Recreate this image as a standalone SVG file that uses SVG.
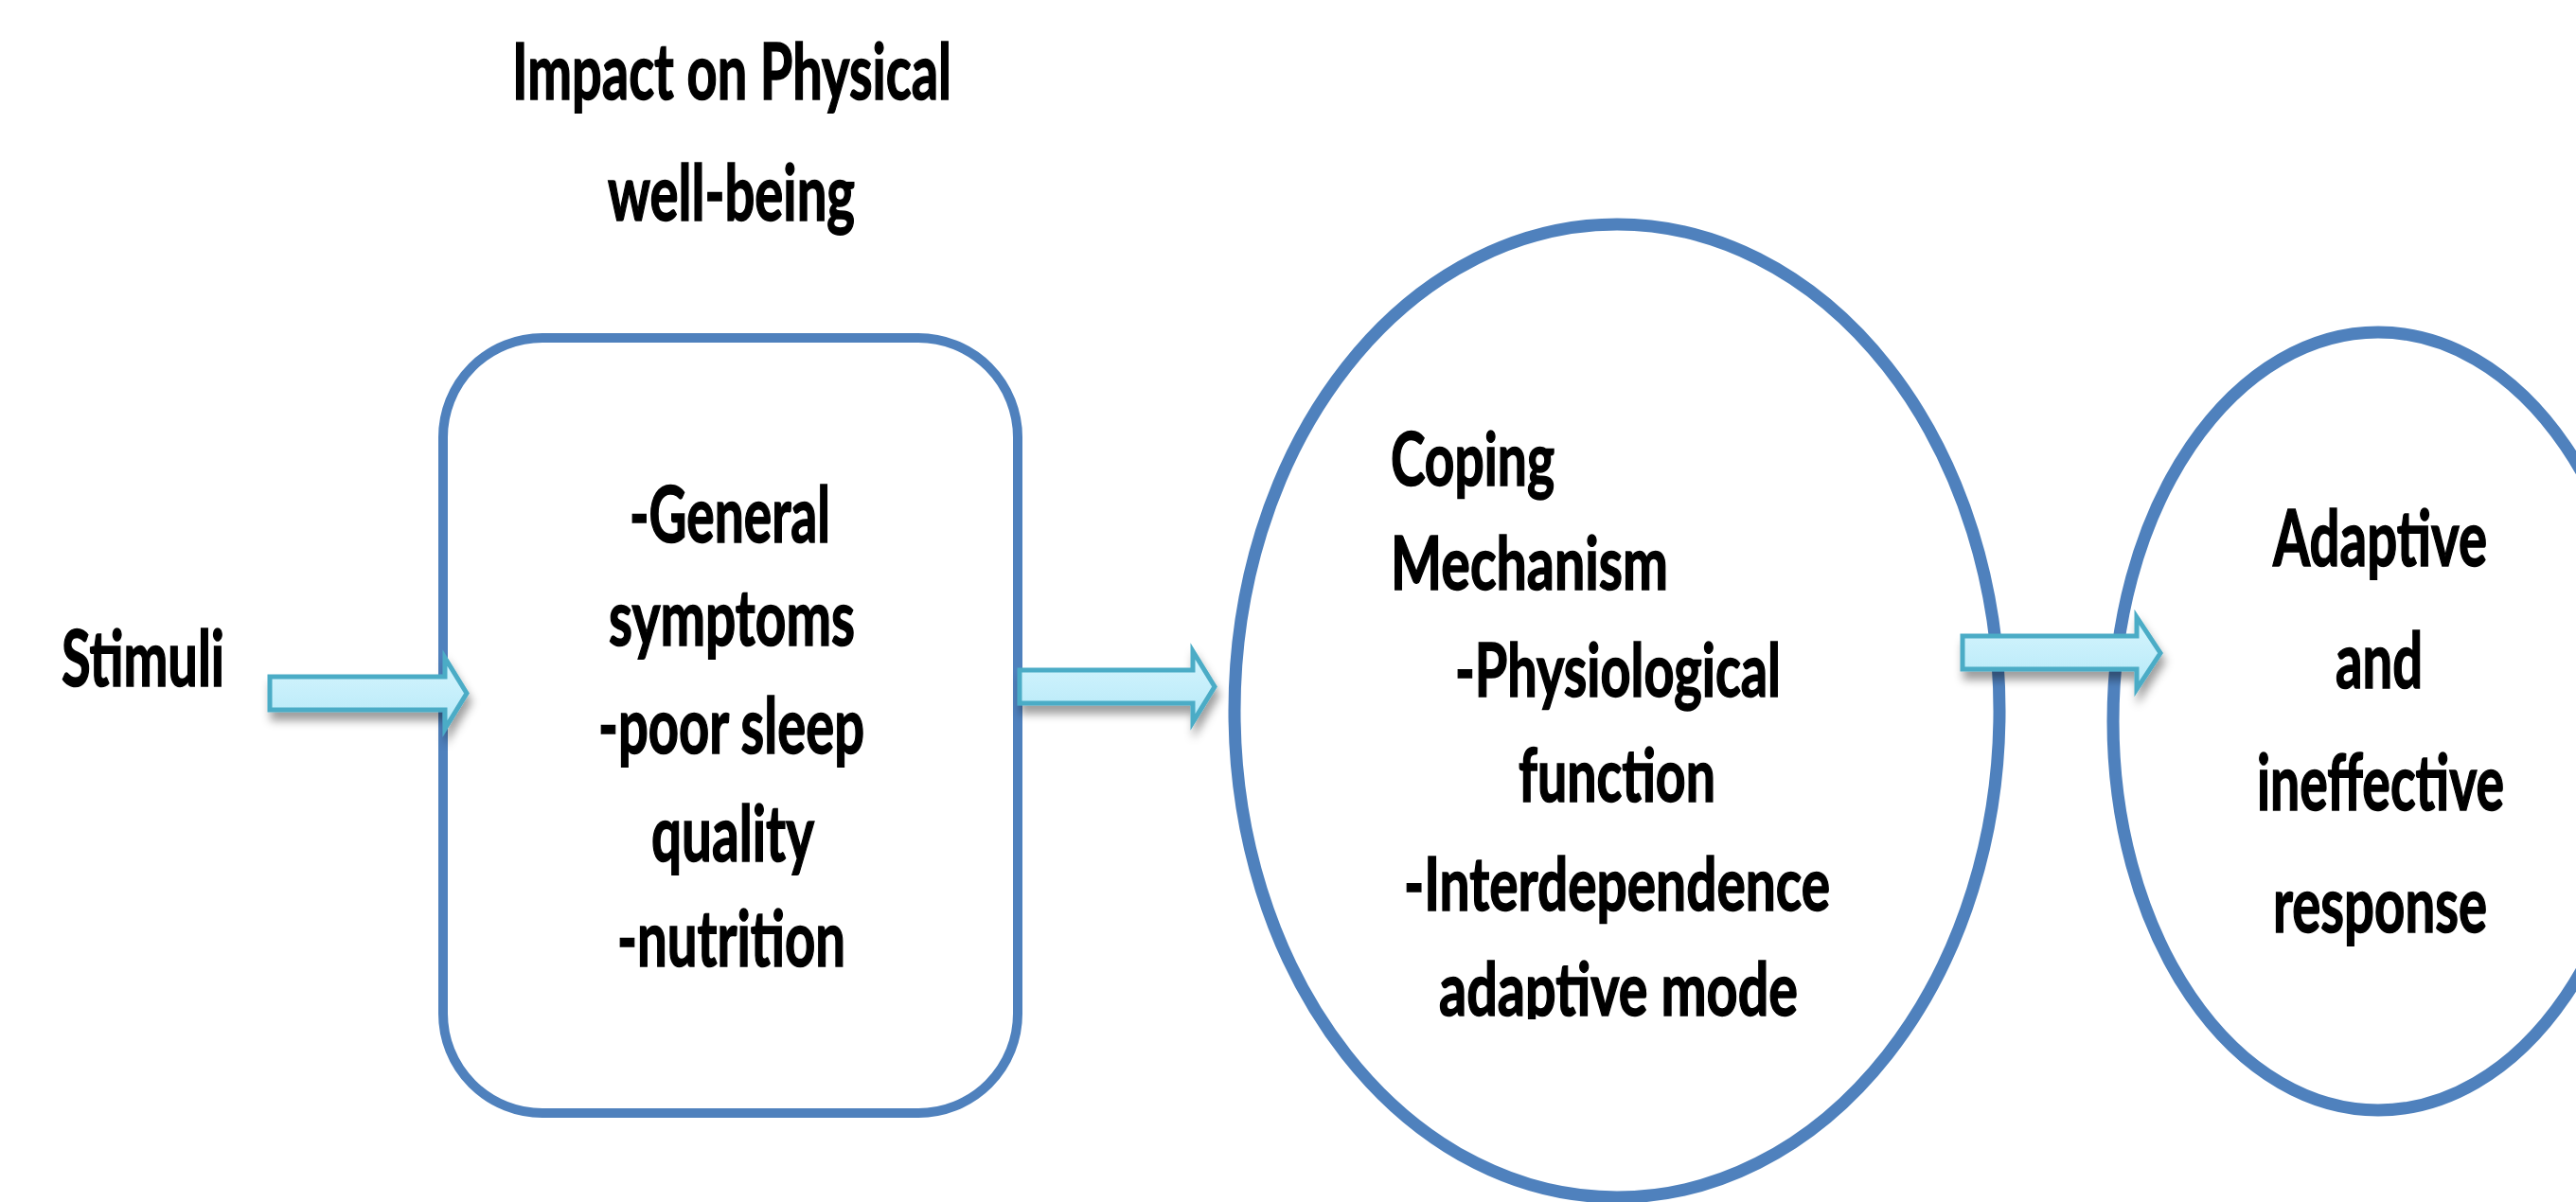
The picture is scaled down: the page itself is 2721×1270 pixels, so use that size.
<svg xmlns="http://www.w3.org/2000/svg" width="2721" height="1270" viewBox="0 0 2721 1270">
  <style>
    .t { font-family: "Lato", "Open Sans", "Liberation Sans", sans-serif; font-weight: bold; fill: #000000; stroke: #000000; stroke-width: 1.6px; font-size: 82px; }
    .t2 { font-size: 78px; }
    .node { fill: #ffffff; stroke: #4f81bd; }
    .arrow { fill: url(#arrowFill); stroke: #4bacc6; stroke-width: 5; stroke-linejoin: miter; filter: url(#shadow); }
  </style>
  <defs>
    <linearGradient id="arrowFill" x1="0" y1="0" x2="0" y2="1">
      <stop offset="0" stop-color="#d6f5fd"/>
      <stop offset="0.5" stop-color="#c6effb"/>
      <stop offset="1" stop-color="#b4e9f7"/>
    </linearGradient>
    <filter id="shadow" x="-10%" y="-50%" width="120%" height="220%">
      <feDropShadow dx="3" dy="9" stdDeviation="5" flood-color="#000000" flood-opacity="0.38"/>
    </filter>
    <clipPath id="clipBottom">
      <rect x="1400" y="1000" width="600" height="77"/>
    </clipPath>
  </defs>
  <rect width="2721" height="1270" fill="#ffffff"/>

  <g id="label-title">
    <text class="t" x="541" y="105" textLength="464" lengthAdjust="spacingAndGlyphs">Impact on Physical</text>
    <text class="t" x="642" y="233" textLength="261" lengthAdjust="spacingAndGlyphs">well-being</text>
  </g>

  <g id="node-stimuli">
    <text class="t" x="65" y="725" textLength="172" lengthAdjust="spacingAndGlyphs">Stimuli</text>
  </g>

  <g id="node-physical">
    <rect class="node" x="468" y="357" width="607" height="819" rx="105" ry="105" stroke-width="10"/>
    <text class="t" x="665" y="573" textLength="212" lengthAdjust="spacingAndGlyphs">-General</text>
    <text class="t" x="643" y="682" textLength="260" lengthAdjust="spacingAndGlyphs">symptoms</text>
    <text class="t" x="632" y="796" textLength="281" lengthAdjust="spacingAndGlyphs">-poor sleep</text>
    <text class="t" x="688" y="910" textLength="172" lengthAdjust="spacingAndGlyphs">quality</text>
    <text class="t" x="652" y="1021" textLength="241" lengthAdjust="spacingAndGlyphs">-nutrition</text>
  </g>

  <g id="node-coping">
    <ellipse class="node" cx="1708" cy="751" rx="404" ry="514" stroke-width="13"/>
    <text class="t t2" x="1469" y="513" textLength="173" lengthAdjust="spacingAndGlyphs">Coping</text>
    <text class="t t2" x="1469" y="623" textLength="293" lengthAdjust="spacingAndGlyphs">Mechanism</text>
    <text class="t t2" x="1537" y="736" textLength="344" lengthAdjust="spacingAndGlyphs">-Physiological</text>
    <text class="t t2" x="1604" y="847" textLength="208" lengthAdjust="spacingAndGlyphs">function</text>
    <text class="t t2" x="1483" y="962" textLength="450" lengthAdjust="spacingAndGlyphs">-Interdependence</text>
    <text class="t t2" x="1520" y="1073" textLength="379" lengthAdjust="spacingAndGlyphs" clip-path="url(#clipBottom)">adaptive mode</text>
  </g>

  <g id="node-response">
    <ellipse class="node" cx="2512" cy="762" rx="280" ry="411" stroke-width="13"/>
    <text class="t" x="2401" y="598" textLength="226" lengthAdjust="spacingAndGlyphs">Adaptive</text>
    <text class="t" x="2467" y="727" textLength="92" lengthAdjust="spacingAndGlyphs">and</text>
    <text class="t" x="2384" y="856" textLength="261" lengthAdjust="spacingAndGlyphs">ineffective</text>
    <text class="t" x="2401" y="985" textLength="226" lengthAdjust="spacingAndGlyphs">response</text>
  </g>

  <g id="connectors">
    <path class="arrow" d="M285,715 L470,715 L470,695 L493,732.5 L470,770 L470,750 L285,750 Z"/>
    <path class="arrow" d="M1077,708 L1260,708 L1260,688 L1283,725.5 L1260,763 L1260,743 L1077,743 Z"/>
    <path class="arrow" d="M2073,672 L2257,672 L2257,652 L2282,690 L2257,728 L2257,707 L2073,707 Z"/>
  </g>
</svg>
